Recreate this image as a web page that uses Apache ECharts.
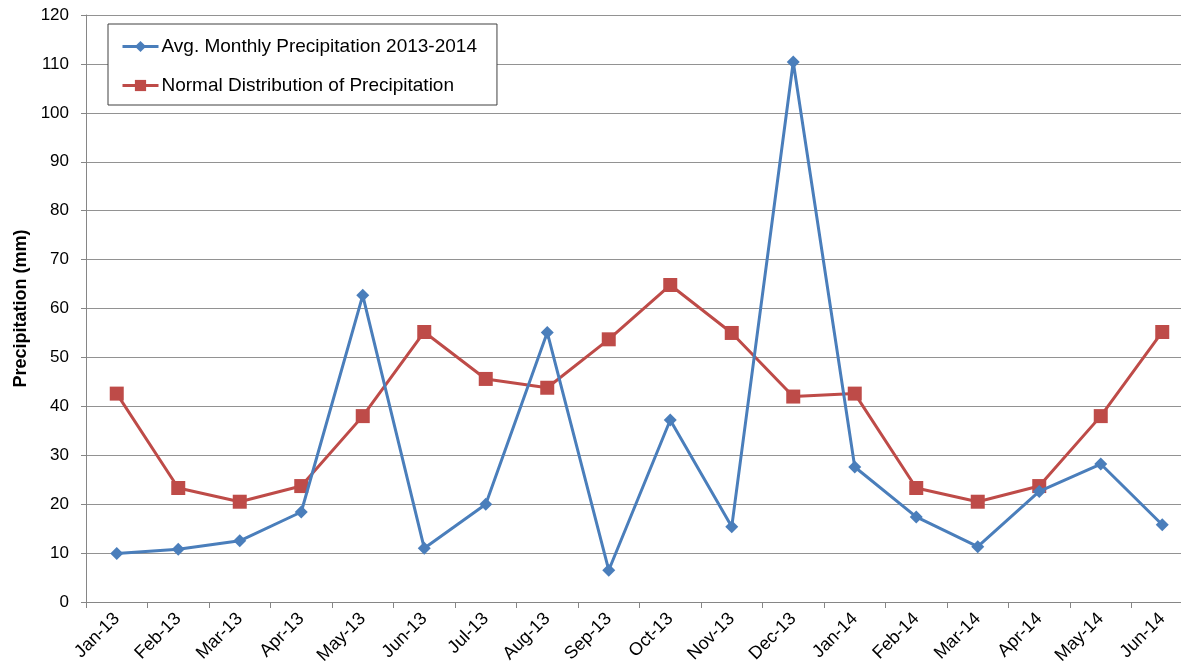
<!DOCTYPE html>
<html>
<head>
<meta charset="utf-8">
<script src="https://cdn.jsdelivr.net/npm/echarts@6/dist/echarts.min.js"></script>
<style>
  html, body { margin: 0; padding: 0; background: #fff; }
  #chart { width: 1181px; height: 672px; }
</style>
</head>
<body>
<div id="chart"></div>
<script>
// Monthly precipitation, Jan 2013 – Jun 2014 (mm)
const months = ['Jan-13','Feb-13','Mar-13','Apr-13','May-13','Jun-13','Jul-13','Aug-13','Sep-13',
                'Oct-13','Nov-13','Dec-13','Jan-14','Feb-14','Mar-14','Apr-14','May-14','Jun-14'];
const avgMonthly = [9.9, 10.8, 12.5, 18.4, 62.7, 11.0, 20.0, 55.1, 6.5,
                    37.2, 15.4, 110.4, 27.6, 17.4, 11.3, 22.6, 28.2, 15.8];
const normalDist = [42.6, 23.3, 20.5, 23.7, 38.0, 55.2, 45.6, 43.8, 53.7,
                    64.8, 55.0, 42.0, 42.6, 23.3, 20.5, 23.7, 38.0, 55.2];
const yTicks = { min: 0, max: 120, step: 10 };

const FONT = '"Liberation Sans", Arial, sans-serif';
const BLUE = '#4a7ebb';
const RED = '#be4b48';
const chart = echarts.init(document.getElementById('chart'), null, { renderer: 'canvas' });

chart.setOption({
  animation: false,
  backgroundColor: '#ffffff',
  textStyle: { fontFamily: FONT },
  grid: {
    left: 86, top: 15, width: 1107, height: 587,
    containLabel: false,
    outerBoundsMode: 'none'
  },
  legend: {
    left: 108, top: 24,
    orient: 'vertical',
    itemGap: 20,
    itemWidth: 36, itemHeight: 14,
    padding: [13, 20, 10, 13],
    borderColor: '#404040', borderWidth: 1,
    backgroundColor: '#ffffff',
    lineStyle: { width: 3 },
    textStyle: { fontFamily: FONT, fontSize: 19, color: '#000', padding: [0, 0, 0, -2] },
    data: [
      'Avg. Monthly Precipitation 2013-2014',
      'Normal Distribution of Precipitation'
    ]
  },
  xAxis: {
    type: 'category',
    data: months,
    boundaryGap: true,
    axisLine: { lineStyle: { color: '#868686', width: 1 } },
    axisTick: { show: true, inside: false, length: 6, lineStyle: { color: '#868686' } },
    axisLabel: { rotate: 45, fontSize: 18, color: '#000', margin: 14, fontFamily: FONT, interval: 0 },
    splitLine: { show: false }
  },
  yAxis: {
    type: 'value',
    min: yTicks.min, max: yTicks.max, interval: yTicks.step,
    name: 'Precipitation (mm)',
    nameLocation: 'middle',
    nameGap: 55,
    nameTextStyle: { fontSize: 18, fontWeight: 'bold', color: '#000', fontFamily: FONT },
    axisLine: { show: true, lineStyle: { color: '#868686', width: 1 } },
    axisTick: { show: true, length: 5, lineStyle: { color: '#868686' } },
    axisLabel: { fontSize: 17, color: '#000', margin: 17, fontFamily: FONT },
    splitLine: { show: true, lineStyle: { color: '#929292', width: 1 } }
  },
  series: [
    {
      name: 'Avg. Monthly Precipitation 2013-2014',
      type: 'line',
      data: avgMonthly,
      symbol: 'diamond',
      symbolSize: 13,
      lineStyle: { color: BLUE, width: 3 },
      itemStyle: { color: BLUE },
      z: 3
    },
    {
      name: 'Normal Distribution of Precipitation',
      type: 'line',
      data: normalDist,
      symbol: 'rect',
      symbolSize: 14,
      lineStyle: { color: RED, width: 3 },
      itemStyle: { color: RED },
      z: 2
    }
  ]
});
</script>
</body>
</html>
